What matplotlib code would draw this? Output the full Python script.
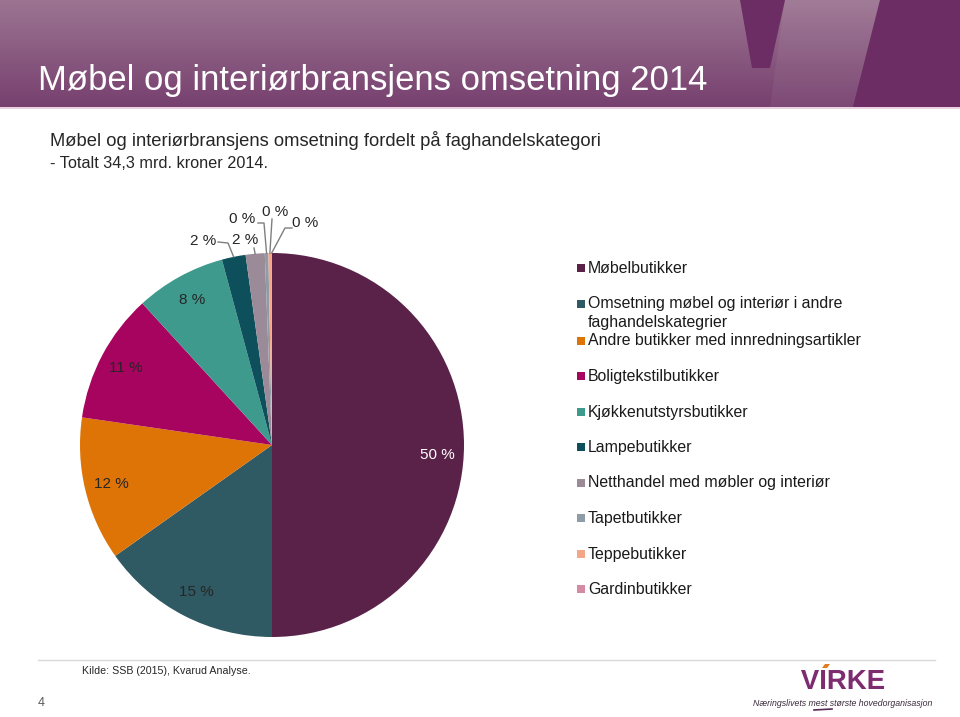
import numpy as np
import matplotlib
matplotlib.use("Agg")
import matplotlib.pyplot as plt
from matplotlib.colors import LinearSegmentedColormap
from matplotlib.patches import Polygon, Rectangle, PathPatch
from matplotlib.textpath import TextPath
from matplotlib.font_manager import FontProperties
from matplotlib.transforms import Affine2D

# data
categories = [
    "Møbelbutikker",
    "Omsetning møbel og interiør i andre\nfaghandelskategrier",
    "Andre butikker med innredningsartikler",
    "Boligtekstilbutikker",
    "Kjøkkenutstyrsbutikker",
    "Lampebutikker",
    "Netthandel med møbler og interiør",
    "Tapetbutikker",
    "Teppebutikker",
    "Gardinbutikker",
]
shares = [50.0, 15.2, 12.1, 10.9, 7.6, 2.0, 1.6, 0.3, 0.25, 0.05]
colors = ["#5a2149", "#2f5963", "#de7406", "#a6045e", "#3f9a8e",
          "#0d4f5a", "#9b8a97", "#8f9ca6", "#f5a689", "#d48aa3"]

title = "Møbel og interiørbransjens omsetning 2014"
subtitle = "Møbel og interiørbransjens omsetning fordelt på faghandelskategori"
subtitle2 = "- Totalt 34,3 mrd. kroner 2014."
source = "Kilde: SSB (2015), Kvarud Analyse."

W, H = 960, 717
plt.rcParams["font.family"] = ["Liberation Sans", "DejaVu Sans"]
fig = plt.figure(figsize=(W / 100, H / 100), dpi=100)
fig.patch.set_facecolor("white")


def fx(px):
    return px / W


def fy(py):
    return 1 - py / H


# header band
hdr = fig.add_axes([0, fy(107), 1, 107 / H])
hdr_cmap = LinearSegmentedColormap.from_list("hdr", ["#9c7592", "#77406f"])
hdr.imshow(np.linspace(0, 1, 200)[:, None], aspect="auto", cmap=hdr_cmap,
           extent=[0, W, 107, 0])
hdr.add_patch(Polygon([(785, 0), (880, 0), (853, 107), (770, 107)], closed=True,
                      color="white", alpha=0.05, lw=0))
hdr.add_patch(Polygon([(740, 0), (785, 0), (770, 68), (752, 68)], closed=True,
                      color="#6b2d63", lw=0))
hdr.add_patch(Polygon([(880, 0), (W, 0), (W, 107), (853, 107)], closed=True,
                      color="#6b2d63", lw=0))
hdr.set_xlim(0, W)
hdr.set_ylim(107, 0)
hdr.axis("off")
fig.add_artist(plt.Line2D([0, 1], [fy(107.5), fy(107.5)], color="#e6c9dc", lw=1.2))

fig.text(fx(38), fy(90), title, color="white", fontsize=24.9, va="baseline")
fig.text(fx(50), fy(146), subtitle, color="#262626", fontsize=13.2, va="baseline")
fig.text(fx(50), fy(168), subtitle2, color="#262626", fontsize=11.7, va="baseline")

# pie
cx, cy, r = 272, 445, 192
ax = fig.add_axes([fx(cx - r), fy(cy + r), 2 * r / W, 2 * r / H])
wedges, _ = ax.pie(shares, colors=colors, startangle=90, counterclock=False,
                   radius=1, wedgeprops=dict(linewidth=0))
ax.set_xlim(-1, 1)
ax.set_ylim(-1, 1)
ax.set_aspect("equal")
ax.axis("off")


def to_data(px, py):
    return (px - cx) / r, (cy - py) / r


labels = [f"{round(v):.0f} %" for v in shares]
lbl_color = "#262626"
for i, w in enumerate(wedges[:5]):
    mid = np.deg2rad((w.theta1 + w.theta2) / 2)
    ax.text(0.86 * np.cos(mid), 0.86 * np.sin(mid) - (0.05 if i == 0 else 0),
            labels[i], ha="center", va="center", fontsize=11,
            color="white" if i == 0 else lbl_color)

# small slices with leader lines: text centre, then bend points (pixels)
small = {
    5: ((203, 241), [(218, 242), (228, 243)]),
    6: ((245, 240), [(254, 248)]),
    7: ((242, 219), [(258, 223), (264, 223)]),
    8: ((275, 212), [(272, 219)]),
    9: ((305, 223), [(292, 228), (285, 228)]),
}
for i, (tpos, bends) in small.items():
    w = wedges[i]
    mid = np.deg2rad((w.theta1 + w.theta2) / 2)
    tx, ty = to_data(*tpos)
    ax.text(tx, ty, labels[i], ha="center", va="center", fontsize=11,
            color=lbl_color, clip_on=False)
    pts = [to_data(*b) for b in bends] + [(np.cos(mid), np.sin(mid))]
    ax.plot([p[0] for p in pts], [p[1] for p in pts], color="#7f7f7f",
            lw=1, clip_on=False)

# legend drawn by hand to follow the reference spacing
ly = 268
for name, col in zip(categories, colors):
    fig.add_artist(Rectangle((fx(577), fy(ly + 4)), 8 / W, 8 / H, color=col,
                             transform=fig.transFigure, lw=0))
    lines = name.split("\n")
    for k, line in enumerate(lines):
        fig.text(fx(588), fy(ly + 5 + 18 * k), line, fontsize=11.4,
                 color="#1a1a1a", va="baseline")
    ly += 35.5 if len(lines) == 1 else 37

# footer
fig.add_artist(plt.Line2D([fx(38), fx(935)], [fy(660), fy(660)], color="#d9d9d9", lw=1))
fig.text(fx(82), fy(671), source, fontsize=7.7, color="#262626", va="center")
fig.text(fx(38), fy(703), "4", fontsize=9, color="#595959", va="center")

# VIRKE logo: condensed bold letters scaled into the logo box
logo = TextPath((0, 0), "VIRKE", size=10,
                prop=FontProperties(family="Liberation Sans", weight="bold"))
bb = logo.get_extents()
sx = 83 / bb.width / W
sy = 19 / bb.height / H
logo_tf = Affine2D().translate(-bb.x0, -bb.y0).scale(sx, sy).translate(fx(801), fy(689))
fig.add_artist(PathPatch(logo_tf.transform_path(logo), color="#7d2c70", lw=0,
                         transform=fig.transFigure))
fig.add_artist(Polygon([(fx(822), fy(668)), (fx(825), fy(664)), (fx(830), fy(664)),
                        (fx(827), fy(668))], closed=True, color="#e07b20",
                       transform=fig.transFigure, lw=0))
fig.text(fx(843), fy(703), "Næringslivets mest største hovedorganisasjon",
         fontsize=6.3, style="italic", color="#3a2a3a", ha="center", va="center")
fig.add_artist(plt.Line2D([fx(814), fx(832)], [fy(710), fy(709)], color="#5a2a55", lw=1.2))

fig.savefig("out.png", dpi=100)
